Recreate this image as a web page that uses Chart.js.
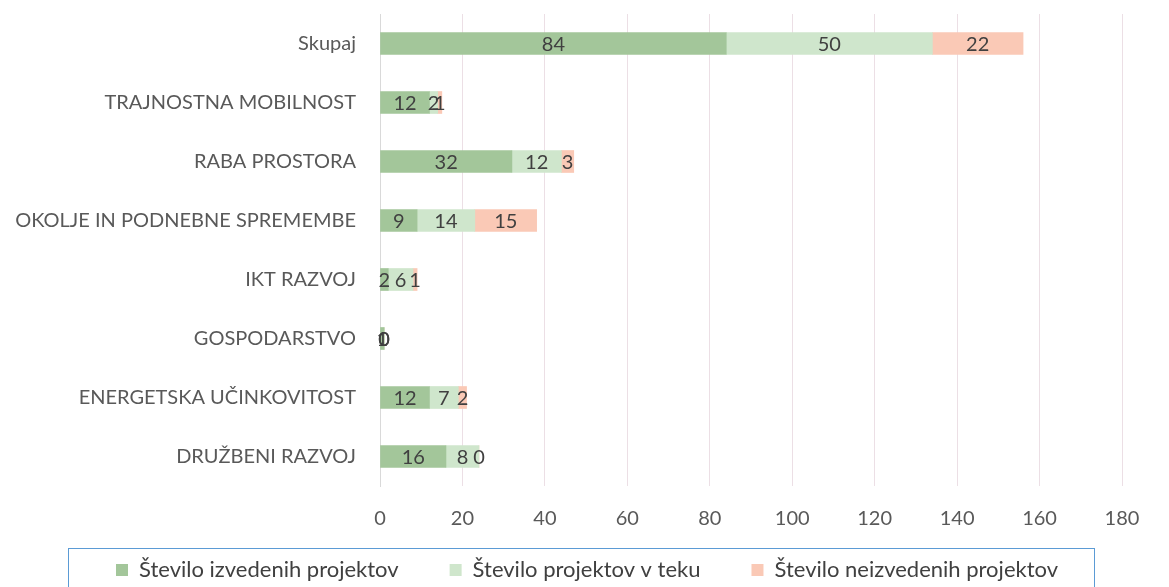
<!DOCTYPE html>
<html>
<head>
<meta charset="utf-8">
<script src="https://cdn.jsdelivr.net/npm/chart.js@4.4.1/dist/chart.umd.min.js"></script>
<style>
  html, body { margin: 0; padding: 0; background: #fff; }
  #wrap { width: 1169px; height: 587px; }
</style>
</head>
<body>
<div id="wrap"><canvas id="chart"></canvas></div>
<script>
const categories = [
    "Skupaj",
    "TRAJNOSTNA MOBILNOST",
    "RABA PROSTORA",
    "OKOLJE IN PODNEBNE SPREMEMBE",
    "IKT RAZVOJ",
    "GOSPODARSTVO",
    "ENERGETSKA UČINKOVITOST",
    "DRUŽBENI RAZVOJ"
];
const izvedeni = [84, 12, 32, 9, 2, 1, 12, 16];
const vTeku = [50, 2, 12, 14, 6, 0, 7, 8];
const neizvedeni = [22, 1, 3, 15, 1, 0, 2, 0];
const xTicks = [0, 20, 40, 60, 80, 100, 120, 140, 160, 180];

const FONT = "Lato, 'Open Sans', sans-serif";

// value labels in the middle of each bar segment
const valueLabels = {
    id: "valueLabels",
    afterDatasetsDraw(chart) {
        const ctx = chart.ctx;
        ctx.save();
        ctx.font = "20px " + FONT;
        ctx.fillStyle = "#404040";
        ctx.textAlign = "center";
        ctx.textBaseline = "middle";
        chart.data.datasets.forEach((ds, i) => {
            const meta = chart.getDatasetMeta(i);
            meta.data.forEach((bar, j) => {
                const mid = (bar.x + bar.base) / 2;
                ctx.fillText(String(ds.data[j]), mid, bar.y + 1);
            });
        });
        ctx.restore();
    }
};

// thin frame around the legend, like the original
const legendFrame = {
    id: "legendFrame",
    afterLayout(chart) {
        // pull the wide-spaced legend up under the axis and a bit to the right
        const lg = chart.legend;
        if (lg) {
            lg.left += 26;
            lg.right += 26;
            lg.top -= 23;
            lg.bottom -= 23;
        }
    },
    afterDraw(chart) {
        const lg = chart.legend;
        if (!lg) return;
        const ctx = chart.ctx;
        const y = lg.top + lg.options.labels.padding - 11;
        ctx.save();
        ctx.strokeStyle = "#5b9bd5";
        ctx.lineWidth = 1;
        ctx.strokeRect(68.5, Math.round(y) + 0.5, 1026, 60);
        ctx.restore();
    }
};

new Chart(document.getElementById("chart"), {
    type: "bar",
    data: {
        labels: categories,
        datasets: [
            { label: "Število izvedenih projektov", data: izvedeni, backgroundColor: "#a3c69a" },
            { label: "Število projektov v teku", data: vTeku, backgroundColor: "#cfe6cc" },
            { label: "Število neizvedenih projektov", data: neizvedeni, backgroundColor: "#fac9b6" }
        ]
    },
    options: {
        indexAxis: "y",
        responsive: true,
        maintainAspectRatio: false,
        animation: false,
        datasets: { bar: { barThickness: 22 } },
        layout: { padding: { left: 0, right: 47, top: 14, bottom: -27 } },
        plugins: {
            tooltip: { enabled: false },
            legend: {
                position: "bottom",
                labels: {
                    font: { family: FONT, size: 22 },
                    color: "#404040",
                    boxWidth: 12,
                    boxHeight: 12,
                    padding: 51
                }
            }
        },
        scales: {
            x: {
                stacked: true,
                min: 0,
                max: 180,
                afterBuildTicks: (axis) => { axis.ticks = xTicks.map(v => ({ value: v })); },
                afterFit: (axis) => { axis.height = 45; },
                grid: { color: "#ecdfe5", drawTicks: false },
                border: { display: false },
                ticks: { font: { family: FONT, size: 20 }, color: "#595959", padding: 21 }
            },
            y: {
                stacked: true,
                afterFit: (axis) => { axis.width = 380; },
                grid: { display: true, drawOnChartArea: false, drawTicks: true, tickLength: 24, color: "rgba(0,0,0,0)" },
                border: { display: true, color: "#d9d9d9" },
                ticks: { font: { family: FONT, size: 20 }, color: "#595959", padding: 0 }
            }
        }
    },
    plugins: [valueLabels, legendFrame]
});
</script>
</body>
</html>
